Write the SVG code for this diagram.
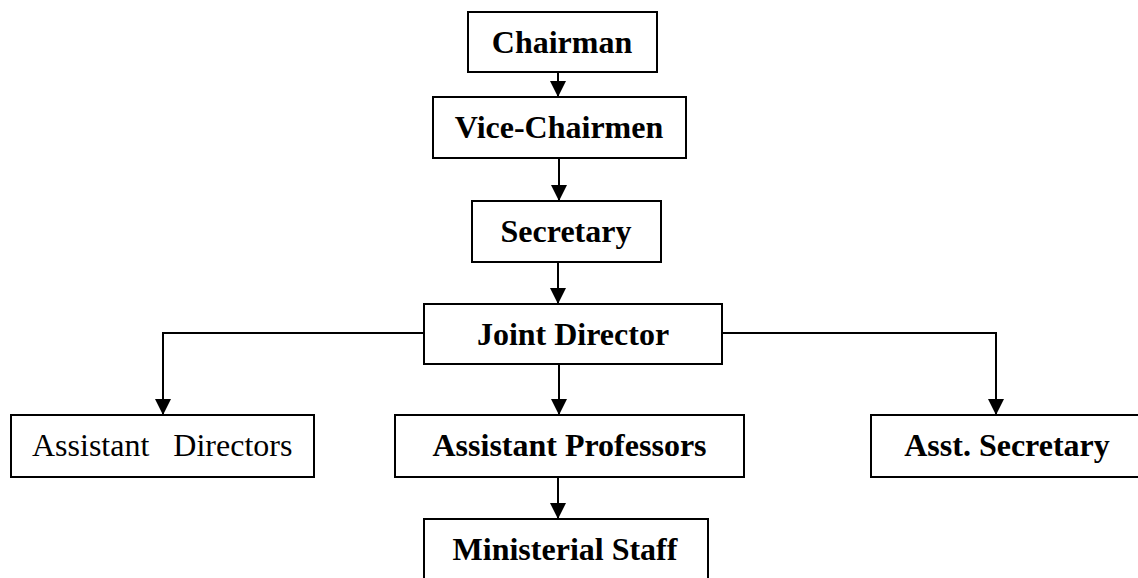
<svg xmlns="http://www.w3.org/2000/svg" width="1138" height="578" viewBox="0 0 1138 578">
<style>
.box{fill:#fff;stroke:#000;stroke-width:2}
.t{font-family:"Liberation Serif","Times New Roman",serif;font-size:32px;fill:#000;text-anchor:middle}
.b{font-weight:bold}
.c{fill:none;stroke:#000;stroke-width:2}
</style>
<defs>
<marker id="ah" viewBox="0 0 16 16" refX="16" refY="8" markerWidth="16" markerHeight="16" orient="auto" markerUnits="userSpaceOnUse">
<path d="M0,0 L16,8 L0,16 z" fill="#000"/>
</marker>
</defs>
<rect width="1138" height="578" fill="#fff"/>
<g id="connectors">
<path class="c" d="M558,72 V97" marker-end="url(#ah)"/>
<path class="c" d="M559,158 V201" marker-end="url(#ah)"/>
<path class="c" d="M558,262 V304" marker-end="url(#ah)"/>
<path class="c" d="M559,364 V415" marker-end="url(#ah)"/>
<path class="c" d="M558,477 V519" marker-end="url(#ah)"/>
<path class="c" d="M424,333 H163 V415" marker-end="url(#ah)"/>
<path class="c" d="M722,333 H996 V415" marker-end="url(#ah)"/>
</g>
<g id="chairman">
<rect class="box" x="468" y="12" width="189" height="60"/>
<text class="t b" x="562" y="53">Chairman</text>
</g>
<g id="vice-chairmen">
<rect class="box" x="433" y="97" width="253" height="61"/>
<text class="t b" x="559" y="138">Vice-Chairmen</text>
</g>
<g id="secretary">
<rect class="box" x="472" y="201" width="189" height="61"/>
<text class="t b" x="566" y="242">Secretary</text>
</g>
<g id="joint-director">
<rect class="box" x="424" y="304" width="298" height="60"/>
<text class="t b" x="573" y="345">Joint Director</text>
</g>
<g id="assistant-directors">
<rect class="box" x="11" y="415" width="303" height="62"/>
<text class="t" x="32" y="456" style="text-anchor:start;white-space:pre" xml:space="preserve">Assistant   Directors</text>
</g>
<g id="assistant-professors">
<rect class="box" x="395" y="415" width="349" height="62"/>
<text class="t b" x="569.5" y="456">Assistant Professors</text>
</g>
<g id="asst-secretary">
<rect class="box" x="871" y="415" width="272" height="62"/>
<text class="t b" x="1007" y="456">Asst. Secretary</text>
</g>
<g id="ministerial-staff">
<rect class="box" x="424" y="519" width="284" height="70"/>
<text class="t b" x="565" y="560">Ministerial Staff</text>
</g>
</svg>
